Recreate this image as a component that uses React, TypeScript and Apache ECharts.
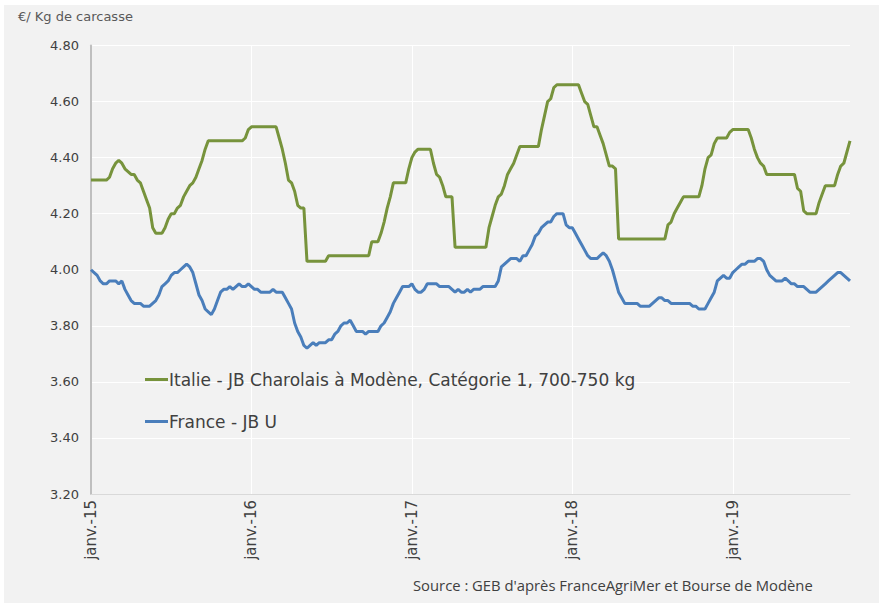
import React, { useEffect, useRef } from "react";
import * as echarts from "echarts";

const yearTicks = ["janv.-15", "janv.-16", "janv.-17", "janv.-18", "janv.-19"];
const yearTickIndices = [0, 52, 104, 156, 208];

const italieName = "Italie - JB Charolais à Modène, Catégorie 1, 700-750 kg";
const franceName = "France - JB U";

const italie = [
  4.32, 4.32, 4.32, 4.32, 4.32, 4.32, 4.33, 4.36, 4.38, 4.39,
  4.38, 4.36, 4.35, 4.34, 4.34, 4.32, 4.31, 4.28, 4.25, 4.22,
  4.15, 4.13, 4.13, 4.13, 4.15, 4.18, 4.20, 4.20, 4.22, 4.23,
  4.26, 4.28, 4.30, 4.31, 4.33, 4.36, 4.39, 4.43, 4.46, 4.46,
  4.46, 4.46, 4.46, 4.46, 4.46, 4.46, 4.46, 4.46, 4.46, 4.46,
  4.47, 4.50, 4.51, 4.51, 4.51, 4.51, 4.51, 4.51, 4.51, 4.51,
  4.51, 4.47, 4.43, 4.38, 4.32, 4.31, 4.28, 4.23, 4.22, 4.22,
  4.03, 4.03, 4.03, 4.03, 4.03, 4.03, 4.03, 4.05, 4.05, 4.05,
  4.05, 4.05, 4.05, 4.05, 4.05, 4.05, 4.05, 4.05, 4.05, 4.05,
  4.05, 4.10, 4.10, 4.10, 4.13, 4.17, 4.22, 4.26, 4.31, 4.31,
  4.31, 4.31, 4.31, 4.36, 4.40, 4.42, 4.43, 4.43, 4.43, 4.43,
  4.43, 4.38, 4.34, 4.33, 4.30, 4.26, 4.26, 4.26, 4.08, 4.08,
  4.08, 4.08, 4.08, 4.08, 4.08, 4.08, 4.08, 4.08, 4.08, 4.15,
  4.19, 4.23, 4.26, 4.27, 4.30, 4.34, 4.36, 4.38, 4.41, 4.44,
  4.44, 4.44, 4.44, 4.44, 4.44, 4.44, 4.50, 4.55, 4.60, 4.61,
  4.65, 4.66, 4.66, 4.66, 4.66, 4.66, 4.66, 4.66, 4.66, 4.63,
  4.60, 4.59, 4.55, 4.51, 4.51, 4.48, 4.45, 4.41, 4.37, 4.37,
  4.36, 4.11, 4.11, 4.11, 4.11, 4.11, 4.11, 4.11, 4.11, 4.11,
  4.11, 4.11, 4.11, 4.11, 4.11, 4.11, 4.11, 4.16, 4.17, 4.20,
  4.22, 4.24, 4.26, 4.26, 4.26, 4.26, 4.26, 4.26, 4.30, 4.36,
  4.40, 4.41, 4.45, 4.47, 4.47, 4.47, 4.47, 4.49, 4.50, 4.50,
  4.50, 4.50, 4.50, 4.50, 4.47, 4.43, 4.40, 4.38, 4.37, 4.34,
  4.34, 4.34, 4.34, 4.34, 4.34, 4.34, 4.34, 4.34, 4.34, 4.29,
  4.28, 4.21, 4.20, 4.20, 4.20, 4.20, 4.24, 4.27, 4.30, 4.30,
  4.30, 4.30, 4.34, 4.37, 4.38, 4.42, 4.46,
];

const france = [
  4.00, 3.99, 3.98, 3.96, 3.95, 3.95, 3.96, 3.96, 3.96, 3.95,
  3.96, 3.93, 3.91, 3.89, 3.88, 3.88, 3.88, 3.87, 3.87, 3.87,
  3.88, 3.89, 3.91, 3.94, 3.95, 3.96, 3.98, 3.99, 3.99, 4.00,
  4.01, 4.02, 4.01, 3.99, 3.95, 3.91, 3.89, 3.86, 3.85, 3.84,
  3.86, 3.89, 3.92, 3.93, 3.93, 3.94, 3.93, 3.94, 3.95, 3.94,
  3.94, 3.95, 3.94, 3.93, 3.93, 3.92, 3.92, 3.92, 3.92, 3.93,
  3.92, 3.92, 3.92, 3.90, 3.88, 3.86, 3.81, 3.78, 3.76, 3.73,
  3.72, 3.73, 3.74, 3.73, 3.74, 3.74, 3.74, 3.75, 3.75, 3.77,
  3.78, 3.80, 3.81, 3.81, 3.82, 3.80, 3.78, 3.78, 3.78, 3.77,
  3.78, 3.78, 3.78, 3.78, 3.80, 3.81, 3.83, 3.85, 3.88, 3.90,
  3.92, 3.94, 3.94, 3.94, 3.95, 3.93, 3.92, 3.92, 3.93, 3.95,
  3.95, 3.95, 3.95, 3.94, 3.94, 3.94, 3.94, 3.93, 3.92, 3.93,
  3.92, 3.92, 3.93, 3.92, 3.93, 3.93, 3.93, 3.94, 3.94, 3.94,
  3.94, 3.94, 3.96, 4.01, 4.02, 4.03, 4.04, 4.04, 4.04, 4.03,
  4.05, 4.05, 4.07, 4.09, 4.12, 4.13, 4.15, 4.16, 4.17, 4.17,
  4.19, 4.20, 4.20, 4.20, 4.16, 4.15, 4.15, 4.13, 4.11, 4.09,
  4.07, 4.05, 4.04, 4.04, 4.04, 4.05, 4.06, 4.05, 4.03, 4.00,
  3.96, 3.92, 3.90, 3.88, 3.88, 3.88, 3.88, 3.88, 3.87, 3.87,
  3.87, 3.87, 3.88, 3.89, 3.90, 3.90, 3.89, 3.89, 3.88, 3.88,
  3.88, 3.88, 3.88, 3.88, 3.88, 3.87, 3.87, 3.86, 3.86, 3.86,
  3.88, 3.90, 3.92, 3.96, 3.97, 3.98, 3.97, 3.97, 3.99, 4.00,
  4.01, 4.02, 4.02, 4.03, 4.03, 4.03, 4.04, 4.04, 4.03, 4.00,
  3.98, 3.97, 3.96, 3.96, 3.96, 3.97, 3.96, 3.95, 3.95, 3.94,
  3.94, 3.94, 3.93, 3.92, 3.92, 3.92, 3.93, 3.94, 3.95, 3.96,
  3.97, 3.98, 3.99, 3.99, 3.98, 3.97, 3.96,
];

// weekly categories (week index labels)
const weeks: string[] = italie.map((_, i) => "S" + i);

const FONT = "'DejaVu Sans', 'Open Sans', sans-serif";

export default function App() {
  const ref = useRef<HTMLDivElement>(null);
  useEffect(() => {
    if (!ref.current) return;
    const chart = echarts.init(ref.current, null, { renderer: "svg" });
    const isTick = (idx: number) => yearTickIndices.indexOf(idx) >= 0;
    chart.setOption({
      animation: false,
      backgroundColor: "#ffffff",
      textStyle: { fontFamily: FONT },
      graphic: [
        {
          type: "rect",
          z: -100,
          silent: true,
          shape: { x: 4, y: 5, width: 875, height: 598 },
          style: { fill: "#f2f2f2" },
        },
        {
          type: "text",
          left: 18,
          top: 10,
          style: { text: "€/ Kg de carcasse", font: `13px ${FONT}`, fill: "#595959" },
        },
        {
          type: "text",
          left: 413,
          top: 577,
          style: {
            text: "Source : GEB d'après FranceAgriMer et Bourse de Modène",
            font: `14.8px 'Open Sans', sans-serif`,
            fill: "#404040",
          },
        },
      ],
      legend: {
        orient: "vertical",
        left: 140,
        top: 366,
        itemGap: 25,
        itemWidth: 23,
        itemHeight: 3,
        icon: "rect",
        textStyle: { fontSize: 17, color: "#404040", fontFamily: FONT, padding: [0, 0, 0, -4] },
        data: [italieName, franceName],
      },
      grid: { left: 91, right: 29, top: 45.5, bottom: 109, containLabel: false },
      xAxis: {
        type: "category",
        data: weeks,
        boundaryGap: false,
        axisLine: { show: true, lineStyle: { color: "#d9d9d9", width: 1 } },
        axisTick: { show: false },
        axisLabel: {
          interval: (idx: number) => isTick(idx),
          formatter: (_v: string, idx: number) => {
            const k = yearTickIndices.indexOf(idx);
            return k >= 0 ? yearTicks[k] : "";
          },
          rotate: 90,
          fontSize: 15,
          color: "#404040",
          margin: 6,
          fontFamily: FONT,
        },
        splitLine: {
          show: true,
          interval: (idx: number) => isTick(idx),
          lineStyle: { color: "#ffffff", width: 1 },
        },
      },
      yAxis: {
        type: "value",
        min: 3.2,
        max: 4.8,
        interval: 0.2,
        axisLine: { show: true, lineStyle: { color: "#bfbfbf", width: 2 } },
        axisTick: { show: false },
        axisLabel: {
          formatter: (v: number) => v.toFixed(2),
          fontSize: 13,
          color: "#404040",
          margin: 12,
          fontFamily: FONT,
        },
        splitLine: { show: true, lineStyle: { color: "#ffffff", width: 1 } },
      },
      series: [
        {
          name: italieName,
          type: "line",
          data: italie,
          showSymbol: false,
          symbol: "none",
          lineStyle: { color: "#77933c", width: 3 },
          itemStyle: { color: "#77933c" },
        },
        {
          name: franceName,
          type: "line",
          data: france,
          showSymbol: false,
          symbol: "none",
          lineStyle: { color: "#4a7ebb", width: 3 },
          itemStyle: { color: "#4a7ebb" },
        },
      ],
    });
    return () => chart.dispose();
  }, []);
  return (
    <div
      ref={ref}
      style={{ position: "absolute", left: 0, top: 0, width: 879, height: 603 }}
    />
  );
}
